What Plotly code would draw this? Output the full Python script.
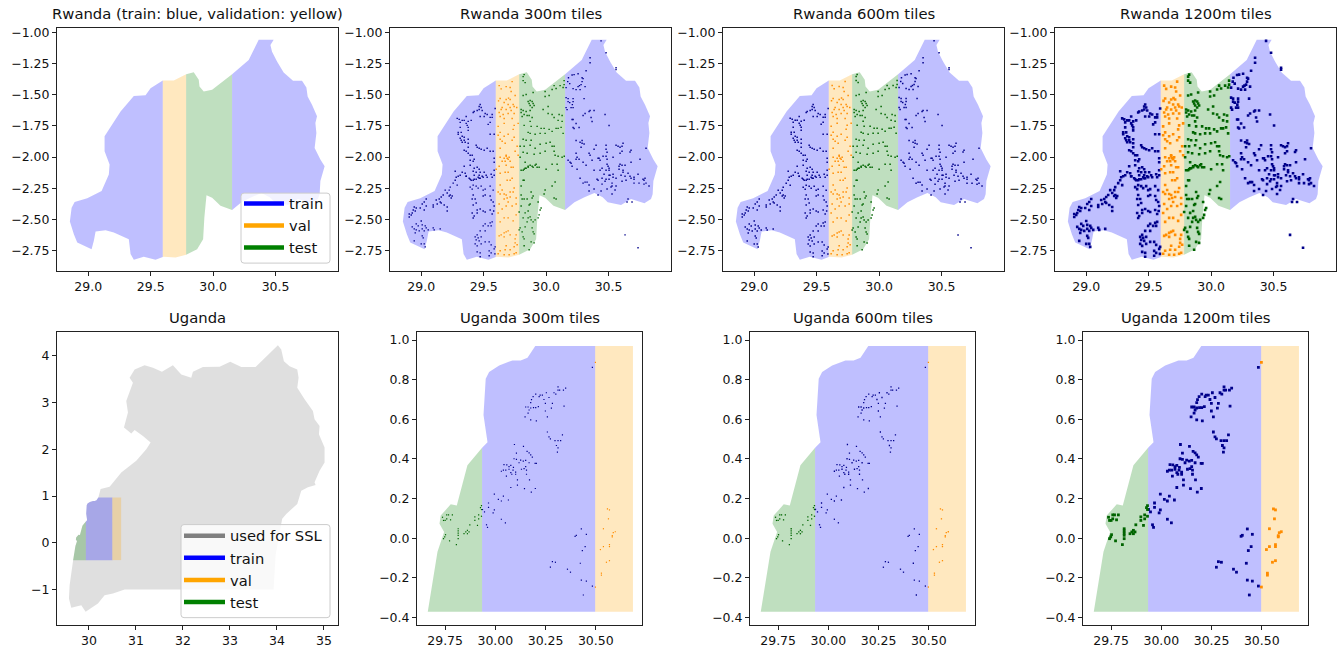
import plotly.graph_objects as go

# ---- region outlines (lon, lat) ----
RW_OUTLINE = [(30.365,-1.061),(30.485,-1.061),(30.459,-1.104),(30.472,-1.157),(30.512,-1.236),(30.565,-1.324),(30.64,-1.39),(30.712,-1.39),(30.747,-1.443),(30.757,-1.515),(30.792,-1.582),(30.832,-1.674),(30.819,-1.728),(30.827,-1.807),(30.813,-1.927),(30.859,-2.02),(30.893,-2.073),(30.859,-2.192),(30.853,-2.298),(30.84,-2.335),(30.787,-2.37),(30.68,-2.335),(30.6,-2.383),(30.493,-2.362),(30.453,-2.322),(30.387,-2.287),(30.307,-2.322),(30.227,-2.362),(30.152,-2.423),(30.059,-2.39),(29.992,-2.325),(29.947,-2.306),(29.93,-2.484),(29.92,-2.657),(29.872,-2.737),(29.784,-2.782),(29.699,-2.803),(29.605,-2.798),(29.539,-2.822),(29.445,-2.798),(29.365,-2.822),(29.339,-2.776),(29.325,-2.657),(29.205,-2.604),(29.139,-2.585),(29.059,-2.596),(29.045,-2.67),(29.027,-2.737),(28.912,-2.683),(28.885,-2.617),(28.853,-2.516),(28.867,-2.405),(28.891,-2.36),(28.992,-2.33),(29.107,-2.272),(29.165,-2.139),(29.171,-2.059),(29.131,-1.953),(29.131,-1.834),(29.259,-1.635),(29.365,-1.512),(29.459,-1.505),(29.499,-1.449),(29.597,-1.388),(29.685,-1.388),(29.784,-1.337),(29.845,-1.321),(29.885,-1.382),(29.891,-1.435),(29.925,-1.475),(29.992,-1.462),(30.152,-1.337),(30.285,-1.223)]
UG_OUTLINE = [(34.021,4.227),(34.092,4.135),(34.149,3.886),(34.27,3.78),(34.433,3.709),(34.461,3.531),(34.433,3.318),(34.589,3.07),(34.766,2.821),(34.801,2.643),(34.908,2.501),(34.894,2.324),(35.014,2.04),(35.014,1.72),(34.908,1.543),(34.801,1.294),(34.823,1.237),(34.66,1.188),(34.518,1.116),(34.433,.832),(34.199,.619),(34.113,.513),(34.057,.229),(33.972,-.268),(33.929,-1.0),(30.759,-1.0),(30.511,-1.085),(30.333,-1.121),(30.191,-1.298),(29.929,-1.476),(29.837,-1.334),(29.624,-1.39),(29.574,-1.192),(29.589,-.908),(29.664,-.368),(29.712,-.068),(29.745,.032),(29.722,.073),(29.728,.115),(29.778,.171),(29.808,.165),(29.861,.368),(29.934,.456),(29.961,.484),(29.941,.622),(29.952,.805),(29.969,.839),(30.019,.872),(30.085,.897),(30.126,.897),(30.16,.91),(30.2,.972),(30.248,1.152),(30.44,1.202),(30.688,1.507),(31.007,1.756),(31.22,2.004),(31.312,2.146),(31.149,2.288),(30.972,2.416),(30.901,2.338),(30.745,2.466),(30.83,2.786),(30.794,3.034),(30.936,3.425),(30.865,3.531),(30.972,3.709),(31.184,3.801),(31.362,3.744),(31.553,3.659),(31.787,3.801),(31.965,3.602),(32.177,3.531),(32.213,3.659),(32.426,3.759),(32.78,3.766),(33.007,3.872),(33.241,3.759),(33.546,3.759)]

# split boundaries (degrees)
RW_VAL_W, RW_VAL_E, RW_TEST_E = 29.597, 29.784, 30.152
UG_TEST_W, UG_TEST_E, UG_VAL_W, UG_VAL_E = 29.6, 29.934, 30.497, 30.685
UG_LAT_S, UG_LAT_N = -0.37, 0.97

# ---- tile centres (lon, lat) ----
RW_TRAIN = [(30.44,-1.07),(30.48,-1.165),(30.352,-1.205),(30.352,-1.245),(30.56,-1.285),(30.56,-1.30),(30.32,-1.309),(30.256,-1.333),(30.224,-1.34),(30.208,-1.343),(30.179,-1.365),(30.288,-1.365),(30.296,-1.372),(30.173,-1.396),(30.288,-1.396),(30.189,-1.412),(30.28,-1.42),(30.267,-1.428),(30.256,-1.436),(30.312,-1.436),(30.16,-1.444),(30.216,-1.452),(30.24,-1.46),(30.272,-1.46),(30.16,-1.524),(30.176,-1.532),(30.216,-1.532),(30.304,-1.532),(30.176,-1.556),(30.216,-1.556),(30.189,-1.564),(30.21,-1.58),(30.16,-1.604),(30.2,-1.604),(30.216,-1.604),(30.168,-1.62),(30.384,-1.627),(30.352,-1.627),(30.344,-1.635),(30.312,-1.651),(30.296,-1.667),(30.472,-1.659),(30.36,-1.683),(30.368,-1.715),(30.208,-1.699),(30.216,-1.699),(30.24,-1.731),(30.504,-1.747),(30.216,-1.763),(30.224,-1.771),(30.264,-1.763),(30.24,-1.867),(30.288,-1.867),
(30.272,-1.882),(30.288,-1.89),(30.304,-1.895),(30.28,-1.922),(30.4,-1.906),(30.48,-1.906),(30.48,-1.938),(30.488,-1.961),(30.384,-1.938),(30.56,-1.906),(30.576,-1.914),(30.592,-1.922),(30.616,-1.89),(30.608,-1.914),(30.608,-1.954),(30.592,-1.969),(30.68,-1.946),(30.672,-1.959),(30.8,-1.93),(30.24,-1.969),(30.344,-1.969),(30.352,-1.985),(30.248,-2.001),(30.24,-2.017),(30.264,-2.017),(30.368,-2.025),(30.416,-2.009),(30.424,-2.009),(30.456,-1.993),(30.48,-1.993),(30.432,-2.025),(30.488,-2.017),(30.536,-2.001),(30.752,-2.017),(30.176,-2.025),(30.192,-2.041),(30.2,-2.049),(30.296,-2.041),(30.68,-2.041),(30.208,-2.073),(30.32,-2.065),(30.488,-2.057),(30.496,-2.073),(30.592,-2.057),(30.608,-2.065),(30.584,-2.073),(30.632,-2.065),(30.248,-2.097),(30.384,-2.105),(30.432,-2.105),(30.448,-2.089),(30.48,-2.105),(30.504,-2.089),(30.504,-2.105),(30.584,-2.097),(30.616,-2.105),(30.616,-2.121),(30.656,-2.129),(30.464,-2.137),(30.504,-2.145),(30.512,-2.145),(30.536,-2.137),(30.536,-2.161),(30.6,-2.145),(30.632,-2.153),(30.672,-2.153),(30.736,-2.137),(30.272,-2.169),(30.408,-2.177),(30.416,-2.185),(30.448,-2.169),(30.48,-2.177),(30.472,-2.193),(30.504,-2.177),(30.56,-2.169),(30.64,-2.185),(30.608,-2.193),(30.68,-2.169),(30.704,-2.161),(30.704,-2.177),(30.776,-2.177),(30.792,-2.169),(30.784,-2.185),(30.296,-2.209),(30.312,-2.201),(30.328,-2.201),(30.448,-2.217),(30.528,-2.209),(30.704,-2.209),(30.744,-2.209),(30.784,-2.217),(30.8,-2.209),(30.344,-2.224),(30.528,-2.232),(30.52,-2.24),(30.56,-2.232),(30.824,-2.232),(30.384,-2.256),(30.488,-2.256),(30.552,-2.264),(30.344,-2.272),(30.44,-2.272),(30.528,-2.296),(30.416,-2.304),(30.656,-2.336),(30.648,-2.36),(30.688,-2.36),(30.632,-2.623),(30.736,-2.726),
(29.472,-1.579),(29.464,-1.595),(29.48,-1.603),(29.464,-1.619),(29.488,-1.627),(29.448,-1.627),(29.424,-1.635),(29.416,-1.643),(29.512,-1.651),(29.528,-1.659),(29.472,-1.675),(29.504,-1.675),(29.552,-1.682),(29.568,-1.682),(29.36,-1.675),(29.288,-1.69),(29.304,-1.698),(29.328,-1.706),(29.344,-1.706),(29.376,-1.714),(29.4,-1.706),(29.312,-1.722),(29.36,-1.73),(29.368,-1.746),(29.376,-1.762),(29.376,-1.786),(29.552,-1.722),(29.536,-1.738),(29.592,-1.611),(29.568,-1.659),(29.312,-1.762),(29.296,-1.802),(29.32,-1.802),(29.296,-1.818),(29.552,-1.818),(29.584,-1.818),(29.328,-1.834),(29.312,-1.85),(29.344,-1.842),(29.32,-1.866),(29.344,-1.866),(29.328,-1.882),(29.352,-1.882),(29.376,-1.858),(29.376,-1.89),(29.376,-1.922),(29.44,-1.906),(29.448,-1.922),(29.464,-1.93),(29.48,-1.937),(29.504,-1.945),(29.528,-1.93),(29.552,-1.953),(29.576,-1.953),(29.344,-1.945),(29.36,-1.953),(29.376,-1.969),(29.392,-1.985),(29.408,-1.985),(29.584,-2.009),(29.584,-2.041),(29.424,-2.017),(29.416,-2.033),(29.392,-2.025),(29.344,-2.073),(29.392,-2.065),(29.424,-2.089),(29.448,-2.081),(29.464,-2.097),(29.272,-2.113),(29.416,-2.113),(29.44,-2.121),(29.472,-2.121),(29.504,-2.121),(29.464,-2.145),(29.52,-2.145),(29.56,-2.137),(29.328,-2.121),(29.312,-2.145),(29.296,-2.153),(29.352,-2.129),(29.36,-2.153),(29.424,-2.145),(29.456,-2.161),(29.488,-2.153),(29.392,-2.177),(29.272,-2.185),(29.44,-2.177),(29.472,-2.169),(29.416,-2.185),(29.584,-2.105),(29.584,-2.145),
(29.28,-2.161),(29.256,-2.209),(29.288,-2.225),(29.232,-2.241),(29.224,-2.265),(29.192,-2.265),(29.208,-2.288),(29.232,-2.304),(29.248,-2.312),(29.224,-2.312),(29.24,-2.328),(29.176,-2.304),(29.16,-2.32),(29.144,-2.336),(29.12,-2.344),(29.152,-2.36),(29.128,-2.376),(29.16,-2.368),(29.184,-2.384),(29.096,-2.384),(29.096,-2.4),(29.208,-2.4),(29.208,-2.432),(29.04,-2.336),(29.024,-2.36),(29.008,-2.376),(29.04,-2.392),(28.992,-2.408),(29.024,-2.424),(29.36,-2.153),(29.384,-2.169),(29.4,-2.185),(29.424,-2.177),(29.464,-2.169),(29.496,-2.161),(29.528,-2.161),(29.568,-2.161),(29.392,-2.241),(29.416,-2.225),(29.408,-2.257),(29.44,-2.233),(29.456,-2.249),(29.48,-2.233),(29.496,-2.265),(29.512,-2.257),(29.552,-2.233),(29.576,-2.265),(29.416,-2.304),(29.408,-2.336),(29.432,-2.336),(29.44,-2.368),(29.416,-2.384),(29.496,-2.312),(29.512,-2.304),(29.552,-2.312),(29.56,-2.344),(29.576,-2.36),(29.584,-2.392),(29.448,-2.424),(29.472,-2.416),(29.496,-2.432),(29.512,-2.44),(29.552,-2.424),(29.408,-2.448),(29.448,-2.448),(29.424,-2.472),(29.416,-2.488),(29.568,-2.456),(29.58,-2.432),(28.944,-2.4),(28.936,-2.424),(28.952,-2.432),(28.928,-2.448),(28.96,-2.408),(28.904,-2.456),(28.92,-2.464),(28.904,-2.48),(29.0,-2.512),(28.96,-2.535),(28.928,-2.559),(28.976,-2.551),(29.008,-2.543),(28.944,-2.575),(28.96,-2.583),(29.008,-2.575),(29.032,-2.551),(29.04,-2.567),(28.984,-2.591),(29.024,-2.591),(29.056,-2.583),(29.096,-2.567),(29.104,-2.583),(29.152,-2.575),(28.952,-2.607),(29.008,-2.631),(29.016,-2.647),(28.944,-2.671),(29.0,-2.695),(29.024,-2.695),(29.032,-2.719),(29.512,-2.535),(29.496,-2.551),(29.552,-2.527),(29.568,-2.519),(29.536,-2.551),(29.512,-2.591),(29.472,-2.591),(29.56,-2.551),(29.448,-2.623),(29.432,-2.639),(29.456,-2.647),(29.48,-2.639),(29.44,-2.663),(29.464,-2.671),(29.48,-2.695),(29.432,-2.695),(29.448,-2.711),(29.512,-2.679),(29.544,-2.679),(29.56,-2.703),(29.592,-2.719),(29.448,-2.759),(29.472,-2.767),(29.472,-2.798),(29.544,-2.751),(29.56,-2.767),(29.544,-2.79),(29.584,-2.735),(29.59,-2.775)]

RW_VAL = [(29.624,-1.428),(29.68,-1.436),(29.728,-1.396),(29.72,-1.475),(29.632,-1.531),(29.68,-1.539),(29.752,-1.507),(29.712,-1.539),(29.664,-1.563),(29.696,-1.579),(29.736,-1.579),(29.648,-1.603),(29.712,-1.603),(29.744,-1.595),(29.64,-1.619),(29.68,-1.619),(29.72,-1.627),(29.624,-1.643),(29.656,-1.659),(29.696,-1.651),(29.632,-1.675),(29.664,-1.691),(29.728,-1.691),(29.744,-1.651),(29.664,-1.73),(29.744,-1.746),(29.616,-1.754),(29.776,-1.73),(29.736,-1.778),(29.632,-1.802),(29.616,-1.826),(29.664,-1.834),(29.696,-1.818),(29.632,-1.858),(29.728,-1.866),(29.744,-1.842),(29.648,-1.874),(29.672,-1.89),(29.768,-1.914),(29.632,-1.93),(29.68,-1.993),(29.664,-2.009),(29.696,-2.017),(29.648,-2.033),(29.712,-2.033),(29.68,-1.985),(29.752,-1.953),(29.632,-2.001),(29.776,-1.985),(29.688,-2.009),(29.704,-2.001),(29.672,-2.033),(29.736,-2.081),(29.68,-2.065),(29.624,-2.073),(29.64,-1.454),(29.712,-1.443),(29.619,-1.55),(29.699,-1.528),(29.765,-1.603),
(29.672,-2.121),(29.696,-2.121),(29.632,-2.129),(29.72,-2.081),(29.6,-2.097),(29.688,-2.185),(29.712,-2.185),(29.728,-2.169),(29.632,-2.224),(29.648,-2.264),(29.712,-2.28),(29.736,-2.28),(29.744,-2.248),(29.616,-2.28),(29.632,-2.296),(29.664,-2.296),(29.68,-2.304),(29.688,-2.328),(29.664,-2.336),(29.712,-2.32),(29.696,-2.36),(29.76,-2.328),(29.624,-2.376),(29.68,-2.392),(29.728,-2.392),(29.76,-2.376),(29.648,-2.416),(29.616,-2.448),(29.664,-2.487),(29.696,-2.487),(29.76,-2.463),(29.736,-2.511),(29.632,-2.519),(29.68,-2.599),(29.696,-2.591),(29.664,-2.607),(29.64,-2.623),(29.624,-2.631),(29.712,-2.623),(29.664,-2.639),(29.76,-2.623),(29.752,-2.655),(29.752,-2.687),(29.768,-2.702),(29.744,-2.718),(29.68,-2.71),(29.672,-2.742),(29.712,-2.742),(29.632,-2.75),(29.616,-2.774),(29.704,-2.782),(29.744,-2.774),(29.76,-2.766),(29.664,-2.782)]

RW_TEST = [(29.824,-1.34),(29.816,-1.356),(29.816,-1.388),(29.832,-1.404),(29.896,-1.483),(29.816,-1.507),(29.84,-1.499),(29.992,-1.475),(30.048,-1.459),(30.064,-1.428),(30.112,-1.428),(30.08,-1.451),(30.136,-1.443),(30.144,-1.388),(30.144,-1.42),(30.024,-1.507),(29.992,-1.515),(29.872,-1.547),(29.888,-1.555),(29.856,-1.555),(29.864,-1.571),(29.896,-1.571),(29.904,-1.587),(29.872,-1.587),(29.888,-1.603),(29.8,-1.619),(29.816,-1.627),(29.84,-1.635),(29.872,-1.627),(29.976,-1.619),(30.016,-1.595),(29.8,-1.643),(29.824,-1.659),(29.848,-1.667),(30.016,-1.651),(30.048,-1.659),(30.064,-1.683),(30.104,-1.659),(30.128,-1.667),(30.096,-1.706),(29.808,-1.675),(29.864,-1.667),(29.888,-1.683),(29.872,-1.714),(29.88,-1.754),(29.928,-1.754),(29.96,-1.77),(29.984,-1.77),(30.024,-1.778),(30.048,-1.794),(30.08,-1.77),(30.12,-1.762),(30.128,-1.714),(30.096,-1.77),(30.136,-1.81),(29.824,-1.746),(29.856,-1.802),(29.872,-1.81),(29.912,-1.818),(29.952,-1.81),(29.992,-1.81),(29.84,-1.866),(29.88,-1.866),(29.816,-1.858),(30.0,-1.89),(30.032,-1.882),(29.792,-1.914),(29.824,-1.914),(29.872,-1.906),(29.912,-1.93),(29.952,-1.898),(30.048,-1.914),(30.064,-1.914),(30.064,-1.953),(30.072,-1.985),(30.096,-1.993),(30.128,-2.001),(30.145,-1.993),(29.816,-1.961),(29.848,-1.969),(29.904,-1.977),(29.952,-1.969),(29.992,-1.953),(29.792,-2.001),(29.832,-2.041),(29.872,-2.065),(29.92,-2.057),(29.944,-2.081),(29.84,-2.089),(29.824,-2.097),(29.856,-2.073),(29.888,-2.073),(30.048,-2.057),(30.088,-2.057),(29.912,-2.065),
(29.8,-2.105),(29.816,-2.105),(29.832,-2.089),(29.856,-2.081),(29.896,-2.081),(29.928,-2.081),(30.0,-2.097),(30.096,-2.105),(29.816,-2.185),(29.824,-2.185),(30.072,-2.2),(30.048,-2.232),(29.8,-2.232),(29.992,-2.264),(29.984,-2.296),(29.88,-2.28),(30.064,-2.328),(30.08,-2.336),(29.8,-2.304),(29.808,-2.336),(29.824,-2.336),(29.848,-2.336),(29.896,-2.312),(29.888,-2.328),(29.936,-2.36),(29.872,-2.376),(29.864,-2.384),(29.96,-2.408),(29.8,-2.392),(29.784,-2.44),(29.856,-2.432),(29.832,-2.447),(29.952,-2.424),(29.944,-2.463),(29.816,-2.487),(29.856,-2.487),(29.872,-2.479),(29.88,-2.503),(29.912,-2.503),(29.936,-2.487),(29.848,-2.519),(29.896,-2.519),(29.792,-2.567),(29.784,-2.583),(29.832,-2.559),(29.888,-2.567),(29.896,-2.599),(29.808,-2.599),(29.816,-2.639),(29.824,-2.655),(29.904,-2.615),(29.904,-2.687),(29.88,-2.679),(29.824,-2.71),(29.864,-2.742)]

UG_TRAIN = [(30.483,.862),(30.148,.612),(30.163,.631),(30.176,.597),(30.204,.592),(30.259,.612),(30.249,.642),(30.279,.656),(30.342,.667),(30.284,.68),(30.249,.68),(30.151,.662),(30.163,.662),(30.176,.657),(30.19,.659),(30.201,.659),(30.214,.664),(30.168,.647),(30.176,.684),(30.18,.699),(30.188,.714),(30.201,.727),(30.218,.714),(30.223,.722),(30.234,.722),(30.242,.70),(30.254,.734),(30.267,.71),(30.292,.734),(30.301,.727),(30.312,.764),(30.312,.747),(30.32,.747),(30.339,.747),(30.35,.757),
(30.259,.536),(30.267,.511),(30.274,.501),(30.334,.522),(30.297,.492),(30.312,.492),(30.325,.492),(30.304,.468),(30.312,.456),(30.309,.434),
(30.095,.473),(30.14,.463),(30.105,.429),(30.158,.438),(30.168,.431),(30.176,.421),(30.184,.409),(30.198,.378),(30.204,.378),(30.093,.401),(30.105,.398),(30.126,.394),(30.139,.389),(30.151,.393),(30.118,.381),(30.168,.381),(30.043,.371),(30.057,.37),(30.068,.361),(30.077,.368),(30.09,.358),(30.04,.344),(30.052,.344),(30.03,.338),(30.068,.348),(30.077,.331),(30.088,.344),(30.101,.334),(30.13,.348),(30.143,.351),(30.155,.344),(30.151,.361),(30.082,.323),(30.101,.323),(30.055,.313),(30.155,.323),(30.11,.295),(30.17,.295),(30.077,.256),(30.11,.268),(30.145,.25),(30.199,.251),(30.179,.233),
(29.995,.223),(30.015,.196),(30.04,.213),(30.03,.188),(30.065,.193),(29.966,.178),(29.966,.156),(29.936,.145),(29.946,.133),(29.995,.143),(29.989,.128),(30.03,.096),(30.05,.078),(29.956,.068),(29.961,.055),
(30.428,.047),(30.453,.02),(30.403,.015),(30.397,.01),(30.447,-.042),(30.433,-.062),(30.284,-.118),(30.299,-.121),(30.274,-.146),(30.423,-.126),(30.359,-.156),(30.374,-.171),(30.428,-.211),(30.453,-.216),(30.483,-.241),(30.438,-.286)]
UG_VAL = [(30.498,.887),(30.498,-.246),(30.558,.148),(30.568,.143),(30.563,.098),(30.538,.048),(30.597,.033),(30.587,.028),(30.582,.013),(30.582,.007),(30.568,-.032),(30.568,-.042),(30.538,-.042),(30.523,-.057),(30.568,-.113),(30.553,-.121),(30.528,-.176),(30.528,-.186)]
UG_TEST = [(29.926,.155),(29.931,.165),(29.931,.145),(29.737,.106),(29.742,.09),(29.75,.09),(29.758,.118),(29.767,.118),(29.786,.118),(29.758,.098),(29.777,.093),(29.917,.118),(29.917,.098),(29.931,.111),(29.898,.108),(29.898,.09),(29.911,.065),(29.873,.068),(29.815,.048),(29.815,.037),(29.815,.026),(29.815,.015),(29.815,-.002),(29.861,.04),(29.853,.032),(29.844,.023),(29.869,.032),(29.861,.023),(29.752,.018),(29.748,.007),(29.742,-.002),(29.772,-.013),(29.806,-.032)]

RW_X_TICKS = [29.0, 29.5, 30.0, 30.5]
RW_Y_TICKS = [-1.0, -1.25, -1.5, -1.75, -2.0, -2.25, -2.5, -2.75]
UG_X_TICKS = [30, 31, 32, 33, 34, 35]
UG_Y_TICKS = [-1, 0, 1, 2, 3, 4]
UGT_X_TICKS = [29.75, 30.0, 30.25, 30.5]
UGT_Y_TICKS = [1.0, 0.8, 0.6, 0.4, 0.2, 0.0, -0.2, -0.4]

TITLES = ["Rwanda (train: blue, validation: yellow)", "Rwanda 300m tiles", "Rwanda 600m tiles", "Rwanda 1200m tiles",
          "Uganda", "Uganda 300m tiles", "Uganda 600m tiles", "Uganda 1200m tiles"]
LEGEND_1 = [("train", "blue"), ("val", "orange"), ("test", "green")]
LEGEND_2 = [("used for SSL", "gray")] + LEGEND_1

BLUE, ORANGE, GREEN, GRAY = "rgba(0,0,255,0.25)", "rgba(255,165,0,0.25)", "rgba(0,128,0,0.25)", "rgba(128,128,128,0.25)"
NAVY, DORANGE, DGREEN = "#00008b", "#ff8c00", "#006400"
FONT = "DejaVu Sans"
W, H = 1344, 650
# frame boxes in page pixels: left, right, top, bottom
BOX = [(57, 338, 25, 269), (390, 671, 25, 269), (723, 1004, 25, 269), (1055, 1336, 25, 269),
       (57, 338, 331, 625), (417, 642, 331, 625), (750, 975, 331, 625), (1083, 1308, 331, 625)]
RW_XR, RW_YR = [28.75, 31.0], [-2.91, -0.966]
UG_XR, UG_YR = [29.32, 35.3], [-1.76, 4.5]
UGT_XR, UGT_YR = [29.61, 30.73], [-0.438, 1.038]


def clip(poly, axis, limit, keep_greater):
    out = []
    n = len(poly)
    inside = (lambda p: p[axis] >= limit) if keep_greater else (lambda p: p[axis] <= limit)
    for i in range(n):
        a, b = poly[i], poly[(i + 1) % n]
        ia, ib = inside(a), inside(b)
        if ia:
            out.append(a)
        if ia != ib:
            t = (limit - a[axis]) / (b[axis] - a[axis])
            out.append((a[0] + t * (b[0] - a[0]), a[1] + t * (b[1] - a[1])))
    return out


def box(poly, lon0=None, lon1=None, lat0=None, lat1=None):
    if lon0 is not None: poly = clip(poly, 0, lon0, True)
    if lon1 is not None: poly = clip(poly, 0, lon1, False)
    if lat0 is not None: poly = clip(poly, 1, lat0, True)
    if lat1 is not None: poly = clip(poly, 1, lat1, False)
    return poly


RW_PARTS = [(box(RW_OUTLINE, lon1=RW_VAL_W), BLUE), (box(RW_OUTLINE, lon0=RW_VAL_W, lon1=RW_VAL_E), ORANGE),
            (box(RW_OUTLINE, lon0=RW_VAL_E, lon1=RW_TEST_E), GREEN), (box(RW_OUTLINE, lon0=RW_TEST_E), BLUE)]
UG_PARTS = [(box(UG_OUTLINE, UG_TEST_W, UG_TEST_E, UG_LAT_S, UG_LAT_N), GREEN),
            (box(UG_OUTLINE, UG_TEST_E, UG_VAL_W, UG_LAT_S, UG_LAT_N), BLUE),
            (box(UG_OUTLINE, UG_VAL_W, UG_VAL_E, UG_LAT_S, UG_LAT_N), ORANGE)]

fig = go.Figure()


def area(poly, color, n, name):
    xs = [p[0] for p in poly] + [poly[0][0]]
    ys = [p[1] for p in poly] + [poly[0][1]]
    fig.add_trace(go.Scatter(x=xs, y=ys, mode="none", fill="toself", fillcolor=color, name=name,
                             showlegend=False, hoverinfo="skip", xaxis=f"x{n}", yaxis=f"y{n}"))


def dots(points, color, size, n, name):
    fig.add_trace(go.Scatter(x=[p[0] for p in points], y=[p[1] for p in points], mode="markers", name=name,
                             marker=dict(symbol="square", size=size, color=color, line_width=0),
                             showlegend=False, xaxis=f"x{n}", yaxis=f"y{n}"))


# Rwanda panels
for n, size in [(1, 0), (2, 1.4), (3, 1.5), (4, 2.6)]:
    for poly, c in RW_PARTS:
        area(poly, c, n, "Rwanda region")
    if size:
        dots(RW_TRAIN, NAVY, size, n, "train")
        dots(RW_VAL, DORANGE, size, n, "val")
        dots(RW_TEST, DGREEN, size, n, "test")

# Uganda overview
area(UG_OUTLINE, GRAY, 5, "Uganda")
for poly, c in UG_PARTS:
    area(poly, c, 5, "Uganda region")

# Uganda tile panels
for n, size in [(6, 1.2), (7, 1.3), (8, 2.8)]:
    for poly, c in UG_PARTS:
        area(poly, c, n, "Uganda region")
    dots(UG_TRAIN, NAVY, size, n, "train")
    dots(UG_VAL, DORANGE, size, n, "val")
    dots(UG_TEST, DGREEN, size, n, "test")

# legends
for items, n, leg in [(LEGEND_1, 1, "legend"), (LEGEND_2, 5, "legend2")]:
    for name, c in items:
        fig.add_trace(go.Scatter(x=[None], y=[None], mode="lines", name=name, line=dict(color=c, width=4.5),
                                 legend=leg, xaxis=f"x{n}", yaxis=f"y{n}"))

layout = dict(width=W, height=H, margin=dict(l=0, r=0, t=0, b=0), paper_bgcolor="white", plot_bgcolor="white",
              font=dict(family=FONT, size=12.5, color="#111"), showlegend=True)
spec = [(RW_XR, RW_YR, RW_X_TICKS, RW_Y_TICKS, ".1f", ".2f")] * 4 + [(UG_XR, UG_YR, UG_X_TICKS, UG_Y_TICKS, "d", "d")] + \
       [(UGT_XR, UGT_YR, UGT_X_TICKS, UGT_Y_TICKS, ".2f", ".1f")] * 3
annos = []
for i, (b, s) in enumerate(zip(BOX, spec)):
    n = i + 1
    common = dict(showgrid=False, zeroline=False, showline=True, mirror=True, linecolor="#222", linewidth=1,
                  ticks="outside", ticklen=4, tickwidth=1, tickcolor="#222", tickfont=dict(size=12.5, family=FONT))
    layout[f"xaxis{n}"] = dict(domain=[b[0] / W, b[1] / W], range=s[0], tickvals=s[2], tickformat=s[4],
                               anchor=f"y{n}", **common)
    layout[f"yaxis{n}"] = dict(domain=[1 - b[3] / H, 1 - b[2] / H], range=s[1], tickvals=s[3], tickformat=s[5],
                               anchor=f"x{n}", **common)
    annos.append(dict(text=TITLES[i], xref="paper", yref="paper", x=(b[0] + b[1]) / 2 / W, y=1 - (b[2] - 4) / H,
                      xanchor="center", yanchor="bottom", showarrow=False, font=dict(size=14.8, family=FONT, color="#111")))
layout["annotations"] = annos


def rounded_box(x0, x1, y0, y1, r=3):
    px = lambda v: v / W
    py = lambda v: 1 - v / H
    return (f"M {px(x0 + r)} {py(y0)} L {px(x1 - r)} {py(y0)} Q {px(x1)} {py(y0)} {px(x1)} {py(y0 + r)} "
            f"L {px(x1)} {py(y1 - r)} Q {px(x1)} {py(y1)} {px(x1 - r)} {py(y1)} "
            f"L {px(x0 + r)} {py(y1)} Q {px(x0)} {py(y1)} {px(x0)} {py(y1 - r)} "
            f"L {px(x0)} {py(y0 + r)} Q {px(x0)} {py(y0)} {px(x0 + r)} {py(y0)} Z")


layout["shapes"] = [dict(type="path", xref="paper", yref="paper", layer="above", path=rounded_box(*bx),
                         fillcolor="rgba(255,255,255,0.8)", line=dict(color="#ccc", width=1))
                    for bx in [(241, 330, 191, 261.3), (181, 330, 524, 617.5)]]
leg_common = dict(bgcolor="rgba(0,0,0,0)", borderwidth=0, font=dict(size=14.7, family=FONT),
                  xanchor="left", yanchor="top", tracegroupgap=0, itemclick=False, itemdoubleclick=False)
layout["legend"] = dict(x=239 / W, y=1 - 185.2 / H, itemwidth=40, **leg_common)
layout["legend2"] = dict(x=179 / W, y=1 - 519 / H, itemwidth=41, **leg_common)
fig.update_layout(**layout)
fig.write_html("out.html", config={"displayModeBar": False},
               post_script="document.body.style.margin='0';document.documentElement.style.overflow='hidden';")
